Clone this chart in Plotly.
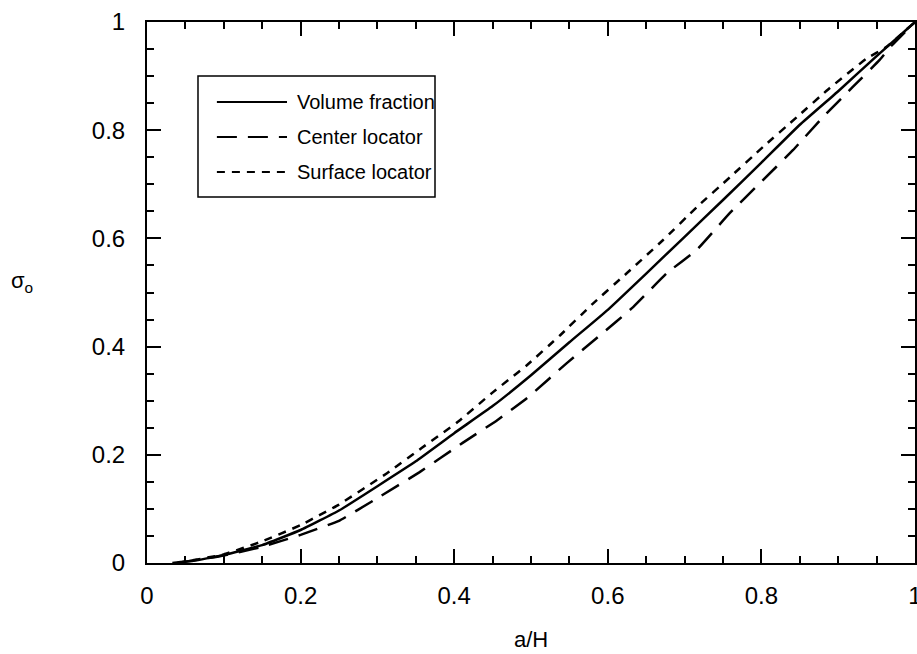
import plotly.graph_objects as go

# ---- data ----
series_names = ["Volume fraction", "Center locator", "Surface locator"]

vf_x = [0.033, 0.06, 0.10, 0.15, 0.20, 0.25, 0.30, 0.35, 0.40, 0.45, 0.50,
        0.55, 0.60, 0.65, 0.70, 0.75, 0.80, 0.85, 0.90, 0.95, 1.0]
vf_y = [0.0, 0.004, 0.015, 0.033, 0.061, 0.097, 0.142, 0.188, 0.240, 0.290, 0.347,
        0.408, 0.468, 0.535, 0.603, 0.671, 0.740, 0.810, 0.872, 0.937, 1.0]

cl_x = [0.04, 0.10, 0.15, 0.20, 0.25, 0.30, 0.355, 0.411, 0.456, 0.495, 0.547,
        0.59, 0.633, 0.677, 0.716, 0.759, 0.798, 0.841, 0.88, 0.919, 0.954, 0.97, 1.0]
cl_y = [0.0, 0.014, 0.030, 0.052, 0.078, 0.120, 0.168, 0.222, 0.264, 0.305, 0.370,
        0.421, 0.473, 0.536, 0.579, 0.647, 0.702, 0.763, 0.824, 0.880, 0.930, 0.957, 1.0]

sl_x = [0.04, 0.10, 0.15, 0.20, 0.25, 0.3125, 0.358, 0.404, 0.449, 0.495, 0.538,
        0.581, 0.625, 0.672, 0.716, 0.759, 0.802, 0.846, 0.889, 0.9375, 0.963, 1.0]
sl_y = [0.0, 0.016, 0.040, 0.070, 0.108, 0.166, 0.213, 0.260, 0.314, 0.366, 0.421,
        0.480, 0.536, 0.597, 0.658, 0.713, 0.769, 0.824, 0.878, 0.933, 0.954, 1.0]

x_ticks = [0, 0.2, 0.4, 0.6, 0.8, 1]
y_ticks = [0, 0.2, 0.4, 0.6, 0.8, 1]
x_title = "a/H"
y_title = "σ<sub>o</sub>"

dashes = ["solid", "20px,11px", "8px,7px"]
FONT = "Liberation Sans, Arial, Helvetica, sans-serif"

fig = go.Figure()
for name, xs, ys, d in zip(series_names, [vf_x, cl_x, sl_x], [vf_y, cl_y, sl_y], dashes):
    fig.add_trace(go.Scatter(x=xs, y=ys, mode="lines", name=name,
                             line=dict(color="black", width=2.5, dash=d, shape="spline", smoothing=0.3),
                             showlegend=False))

axis_common = dict(
    range=[0, 1], showgrid=False, zeroline=False, automargin=False,
    showline=True, linecolor="black", linewidth=2, mirror="allticks",
    ticks="inside", ticklen=14, tickwidth=2, tickcolor="black",
    minor=dict(dtick=0.05, ticks="inside", ticklen=7, tickwidth=1.5, tickcolor="black"),
    tickfont=dict(family=FONT, size=24, color="black"),
    ticklabeloverflow="allow",
)
fig.update_xaxes(**axis_common, tickvals=x_ticks, ticktext=[f"{v:g}" for v in x_ticks],
                 ticklabelstandoff=10)
fig.update_yaxes(**axis_common, tickvals=y_ticks, ticktext=[f"{v:g}" for v in y_ticks],
                 ticklabelstandoff=15)

# manual legend (long line samples like the reference)
fig.add_shape(type="rect", xref="paper", yref="paper", x0=0.0664, x1=0.375, y0=0.6765, y1=0.900,
              line=dict(color="black", width=1.5), fillcolor="white", layer="above")
row_y = [0.852, 0.7874, 0.7227]
for name, d, yy in zip(series_names, dashes, row_y):
    fig.add_shape(type="line", xref="paper", yref="paper", x0=0.091, x1=0.1823, y0=yy, y1=yy,
                  line=dict(color="black", width=2, dash=d), layer="above")
    fig.add_annotation(xref="paper", yref="paper", x=0.1927, y=yy, text=name, showarrow=False,
                       xanchor="left", yanchor="middle",
                       font=dict(family=FONT, size=20, color="black"))

fig.add_annotation(xref="paper", yref="paper", x=0.5, y=-0.142, text=x_title, showarrow=False,
                   xanchor="center", yanchor="middle", font=dict(family=FONT, size=22, color="black"))
fig.add_annotation(xref="paper", yref="paper", x=-0.163, y=0.52, text=y_title, showarrow=False,
                   xanchor="center", yanchor="middle", font=dict(family=FONT, size=22, color="black"))

fig.update_layout(width=917, height=654, margin=dict(l=147, r=2, t=22, b=91, autoexpand=False),
                  paper_bgcolor="white", plot_bgcolor="white", showlegend=False)

fig.write_html("out.html")
